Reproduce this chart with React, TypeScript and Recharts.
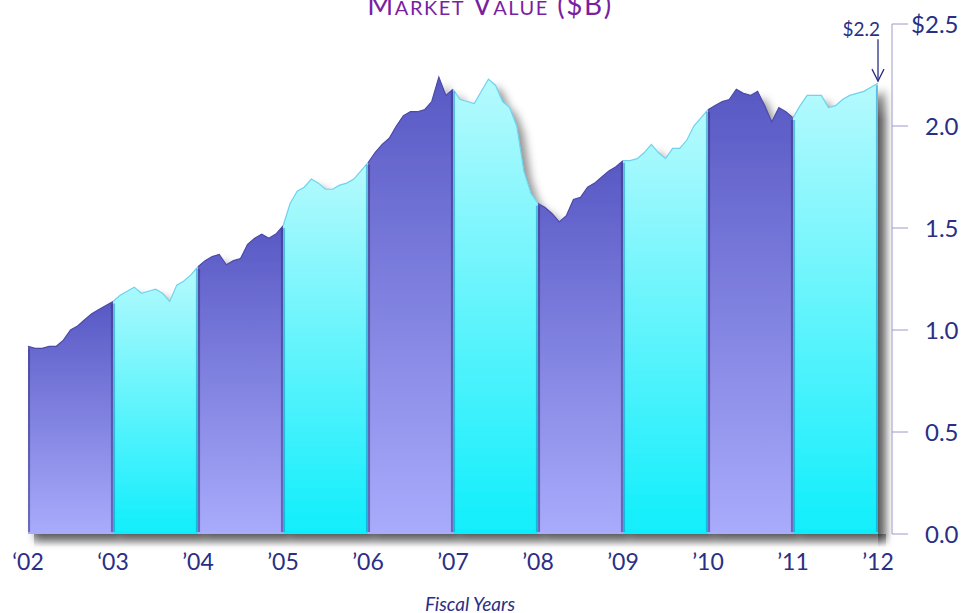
import React from "react";
import { AreaChart, Area, XAxis, YAxis, ReferenceDot, ReferenceLine } from "recharts";

const FONT = "Lato, 'Open Sans', sans-serif";
const INK = "#2b2e85";

// fiscal year tick labels
const yearLabels = ["\u201802", "\u201803", "\u201904", "\u201905", "\u201906", "\u201907", "\u201908", "\u201909", "\u201910", "\u201911", "\u201912"];

// market value ($B), first month, then month-end values per fiscal year
const openValue = 0.92;
const fy02 = [0.91, 0.91, 0.92, 0.92, 0.95, 1.0, 1.02, 1.05, 1.08, 1.1, 1.12, 1.14];
const fy03 = [1.17, 1.19, 1.21, 1.18, 1.19, 1.2, 1.18, 1.14, 1.22, 1.24, 1.27, 1.31];
const fy04 = [1.34, 1.36, 1.37, 1.32, 1.34, 1.35, 1.42, 1.45, 1.47, 1.45, 1.47, 1.51];
const fy05 = [1.62, 1.68, 1.7, 1.74, 1.72, 1.69, 1.69, 1.71, 1.72, 1.74, 1.78, 1.82];
const fy06 = [1.87, 1.91, 1.94, 2.0, 2.05, 2.07, 2.07, 2.08, 2.12, 2.24, 2.15, 2.18];
const fy07 = [2.13, 2.12, 2.11, 2.17, 2.23, 2.2, 2.12, 2.09, 2.0, 1.78, 1.67, 1.62];
const fy08 = [1.6, 1.57, 1.53, 1.56, 1.64, 1.65, 1.7, 1.72, 1.75, 1.78, 1.8, 1.83];
const fy09 = [1.83, 1.84, 1.87, 1.91, 1.87, 1.84, 1.89, 1.89, 1.93, 2.0, 2.04, 2.08];
const fy10 = [2.1, 2.12, 2.13, 2.18, 2.16, 2.15, 2.17, 2.1, 2.02, 2.09, 2.07, 2.04];
const fy11 = [2.1, 2.15, 2.15, 2.15, 2.09, 2.1, 2.13, 2.15, 2.16, 2.17, 2.19, 2.21];

const yTicks = [0, 0.5, 1, 1.5, 2, 2.5];

const fiscalYears = [fy02, fy03, fy04, fy05, fy06, fy07, fy08, fy09, fy10, fy11];
const monthly = [openValue, ...fiscalYears.flat()];
const lastMonth = monthly.length - 1;

// one column per fiscal year band, shared value at the boundaries
const rows = monthly.map((v, m) => {
  const row: Record<string, number | null> = { m };
  fiscalYears.forEach((_, i) => {
    row[`fy${i}`] = m >= i * 12 && m <= i * 12 + 12 ? v : null;
  });
  return row;
});

const XTick = ({ x, y, payload }: any) => (
  <text x={x} y={y + 36} textAnchor="middle" fill={INK} fontSize={23} fontFamily={FONT}>
    {yearLabels[Math.round(payload.value / 12)]}
  </text>
);

const YTick = ({ x, y, payload }: any) => {
  const top = payload.value === yTicks[yTicks.length - 1];
  return (
    <g>
      {top && (
        <text x={x} y={y} dy="0.36em" textAnchor="end" fill={INK} fontSize={24} fontFamily={FONT}>
          $
        </text>
      )}
      <text x={x} y={y} dy="0.36em" textAnchor="start" fill={INK} fontSize={24} fontFamily={FONT}>
        {payload.value.toFixed(1)}
      </text>
    </g>
  );
};

const LastValueNote = ({ cx, cy }: any) => (
  <g>
    <line x1={cx} y1={cy - 44} x2={cx} y2={cy - 2} stroke={INK} strokeWidth={1.3} />
    <polyline points={`${cx - 6},${cy - 14} ${cx},${cy - 2} ${cx + 6},${cy - 14}`} fill="none" stroke={INK} strokeWidth={1.3} />
    <text x={cx + 2} y={cy - 47} textAnchor="end" fill={INK} fontSize={19} fontFamily={FONT}>
      ${monthly[lastMonth].toFixed(1)}
    </text>
  </g>
);

export default function App() {
  return (
    <div style={{ position: "absolute", left: 0, top: 0, width: 966, height: 613, background: "#fff" }}>
      <style>{`.recharts-area-area { filter: url(#bandFx); }`}</style>
      {/* soft drop shadow under and right of the block of bands */}
      <div
        style={{
          position: "absolute",
          left: 34,
          top: 534,
          width: 852,
          height: 13,
          background: "linear-gradient(to bottom, rgba(0,0,0,0.36), rgba(0,0,0,0))",
        }}
      />
      <div
        style={{
          position: "absolute",
          left: 878,
          top: 95,
          width: 14,
          height: 452,
          background: "linear-gradient(to right, rgba(0,0,0,0.38), rgba(0,0,0,0))",
          WebkitMaskImage: "linear-gradient(to bottom, rgba(0,0,0,0), #000 25px, #000 440px, rgba(0,0,0,0))",
        }}
      />
      <AreaChart
        width={966}
        height={613}
        data={rows}
        margin={{ top: 24, right: 0, bottom: 0, left: 28 }}
        style={{ position: "absolute", left: 0, top: 0 }}
      >
        <defs>
          <linearGradient id="purpleFill" x1="0" y1="0" x2="0" y2="1">
            <stop offset="0%" stopColor="#5858c4" />
            <stop offset="100%" stopColor="#a9acfc" />
          </linearGradient>
          <linearGradient id="cyanFill" x1="0" y1="0" x2="0" y2="1">
            <stop offset="0%" stopColor="#b6fafd" />
            <stop offset="100%" stopColor="#10eefc" />
          </linearGradient>
          <filter id="bandFx" x="-0.2" y="-0.2" width="1.5" height="1.4">
            <feDropShadow dx="7" dy="7" stdDeviation="4" floodColor="#000000" floodOpacity="0.42" />
          </filter>
        </defs>
        <XAxis
          dataKey="m"
          type="number"
          domain={[0, (864 * 120) / 850]}
          ticks={yearLabels.map((_, i) => i * 12)}
          tick={<XTick />}
          interval={0}
          axisLine={false}
          tickLine={false}
          tickSize={0}
          tickMargin={0}
          height={79}
        />
        <YAxis
          orientation="right"
          width={74}
          domain={[0, 2.5]}
          ticks={yTicks}
          interval={0}
          axisLine={{ stroke: "#9a9ccb" }}
          tickLine={{ stroke: "#9a9ccb" }}
          tickSize={16}
          tickMargin={17}
          tick={<YTick />}
        />
        {fiscalYears.map((_, i) => (
          <Area
            key={i}
            dataKey={`fy${i}`}
            type="linear"
            stroke={i % 2 === 0 ? "#4a4aa8" : "#6fd2ee"}
            strokeWidth={1.2}
            fill={i % 2 === 0 ? "url(#purpleFill)" : "url(#cyanFill)"}
            fillOpacity={1}
            dot={false}
            activeDot={false}
            isAnimationActive={false}
          />
        ))}
        {/* darker seams where one fiscal year meets the next */}
        {fiscalYears.map((_, i) =>
          [i * 12 + 0.15, i * 12 + 11.85].map((xm, j) => (
            <ReferenceLine
              key={`${i}-${j}`}
              segment={[
                { x: xm, y: 0.01 },
                { x: xm, y: monthly[j === 0 ? i * 12 : i * 12 + 12] - 0.01 },
              ]}
              stroke={i % 2 === 0 ? "#34347e" : "#1a8cc8"}
              strokeOpacity={0.55}
              strokeWidth={2}
            />
          ))
        )}
        <ReferenceDot x={lastMonth} y={monthly[lastMonth]} r={0} shape={<LastValueNote />} />
      </AreaChart>
      <svg width={966} height={613} style={{ position: "absolute", left: 0, top: 0, pointerEvents: "none" }}>
        <text x={490} y={15} textAnchor="middle" fill="#7b1fa2" fontSize={28} fontFamily={FONT} letterSpacing={1.5} style={{ fontVariant: "small-caps" }}>
          Market Value ($B)
        </text>
        <text x={470} y={611} textAnchor="middle" fill={INK} fontSize={19} fontStyle="italic" fontFamily={FONT}>
          Fiscal Years
        </text>
      </svg>
    </div>
  );
}
